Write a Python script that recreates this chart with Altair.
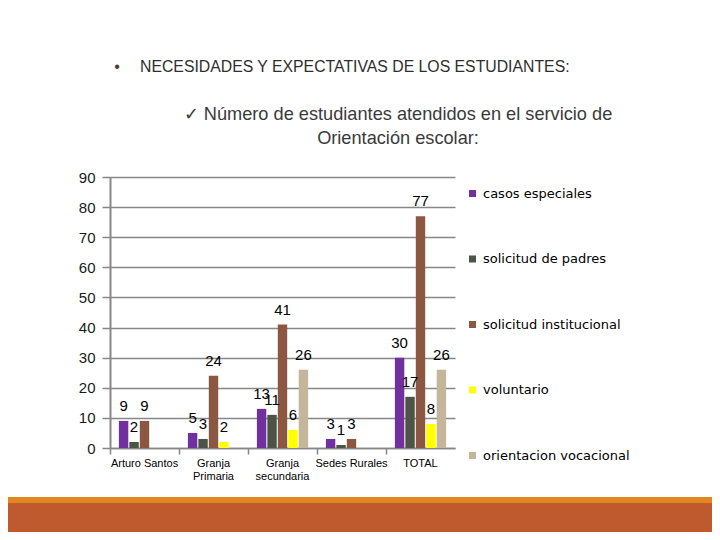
import altair as alt
import pandas as pd

categories = ["Arturo Santos", "Granja Primaria", "Granja secundaria", "Sedes Rurales", "TOTAL"]
series = ["casos especiales", "solicitud de padres", "solicitud institucional",
          "voluntario", "orientacion vocacional"]
colors = ["#7030A0", "#4B5445", "#8B5742", "#FFFF00", "#C4B59B"]

casos_especiales = [9, 5, 13, 3, 30]
solicitud_padres = [2, 3, 11, 1, 17]
solicitud_institucional = [9, 24, 41, 3, 77]
voluntario = [None, 2, 6, None, 8]
orientacion_vocacional = [None, None, 26, None, 26]

title_line = "NECESIDADES Y EXPECTATIVAS DE LOS ESTUDIANTES:"
subtitle_lines = ["\u2713 Número de estudiantes atendidos en  el servicio de", "Orientación escolar:"]

rows = []
for s, vals in zip(series, [casos_especiales, solicitud_padres, solicitud_institucional,
                            voluntario, orientacion_vocacional]):
    for c, v in zip(categories, vals):
        if v is not None:
            rows.append({"categoria": c, "serie": s, "valor": v})
df = pd.DataFrame(rows)

W, H = 345, 271

x = alt.X("categoria:N", sort=categories,
          scale=alt.Scale(domain=categories, paddingInner=0, paddingOuter=0),
          axis=alt.Axis(title=None, labelAngle=0, bandPosition=0, ticks=True, tickSize=6,
                        tickColor="#878787", tickWidth=1.5, domainColor="#878787",
                        domainWidth=1.5, labelFontSize=11, labelFont="Liberation Sans",
                        labelColor="#000000", labelPadding=3, labelBaseline="top",
                        labelExpr="indexof(['Granja Primaria','Granja secundaria'], datum.label) >= 0 ? split(datum.label, ' ') : datum.label"))
xo = alt.XOffset("serie:N", sort=series,
                 scale=alt.Scale(domain=series, paddingInner=0.1, paddingOuter=0.85))
y = alt.Y("valor:Q", scale=alt.Scale(domain=[0, 90], nice=False),
          axis=alt.Axis(title=None, values=list(range(0, 91, 10)), grid=True,
                        gridColor="#878787", gridWidth=1.5, domainColor="#878787",
                        domainWidth=2, tickColor="#878787", tickWidth=1.5, tickSize=8,
                        labelFontSize=15, labelFont="Liberation Sans", labelColor="#1a1a1a",
                        labelPadding=7))

bars = alt.Chart(df).mark_bar().encode(
    x=x, xOffset=xo, y=y,
    color=alt.Color("serie:N", sort=series,
                    scale=alt.Scale(domain=series, range=colors),
                    legend=alt.Legend(title=None, orient="none", legendX=356, legendY=10,
                                      symbolType="square", symbolSize=49,
                                      symbolStrokeWidth=0, labelFontSize=13,
                                      labelFont="DejaVu Sans", labelColor="#000000",
                                      rowPadding=51.5, labelOffset=4, padding=0)),
)

labels = alt.Chart(df).mark_text(baseline="alphabetic", dy=-10, fontSize=15,
                                 font="Liberation Sans", color="#000000").encode(
    x=x, xOffset=xo, y=y, text="valor:Q")

deco = alt.Data(values=[{"k": 1}])
band_light = alt.Chart(deco).mark_rect(color="#E2861F").encode(
    x=alt.value(-102), x2=alt.value(602), y=alt.value(320), y2=alt.value(326))
band_dark = alt.Chart(deco).mark_rect(color="#BE5A2D").encode(
    x=alt.value(-102), x2=alt.value(602), y=alt.value(326), y2=alt.value(360))

bullet = alt.Chart(deco).mark_text(text="\u2022", fontSize=16, color="#404040",
                                   align="center", baseline="middle").encode(
    x=alt.value(7), y=alt.value(-110))
title = alt.Chart(deco).mark_text(text=title_line, fontSize=15.8, font="Liberation Sans",
                                  color="#2e2e2e", align="left", baseline="middle").encode(
    x=alt.value(30), y=alt.value(-110))
sub1 = alt.Chart(deco).mark_text(text=subtitle_lines[0], fontSize=18.2, font="Liberation Sans",
                                 color="#3a3a3a", align="center", baseline="middle").encode(
    x=alt.value(288), y=alt.value(-62))
sub2 = alt.Chart(deco).mark_text(text=subtitle_lines[1], fontSize=18.2, font="Liberation Sans",
                                 color="#3a3a3a", align="center", baseline="middle").encode(
    x=alt.value(288), y=alt.value(-38))

chart = alt.layer(band_light, band_dark, bars, labels, bullet, title, sub1, sub2).properties(
    width=W, height=H,
    autosize=alt.AutoSizeParams(type="none"),
    padding={"left": 102, "top": 169, "right": 257, "bottom": 84},
    background="#ffffff",
).configure_view(stroke=None)

chart.save("out.html", embed_options={"renderer": "svg", "actions": False})
